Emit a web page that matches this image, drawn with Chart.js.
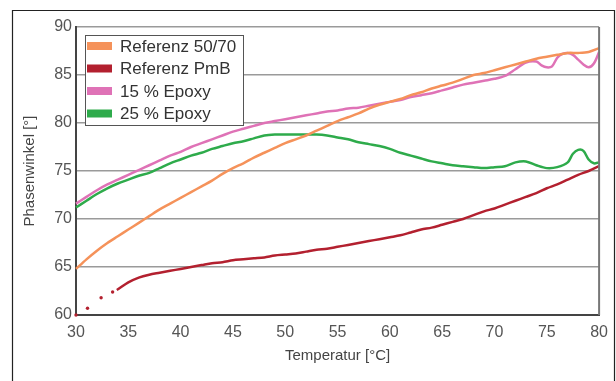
<!DOCTYPE html>
<html>
<head>
<meta charset="utf-8">
<script src="https://cdn.jsdelivr.net/npm/chart.js@4"></script>
<style>
  html, body { margin: 0; padding: 0; background: #fff; }
  #wrap { width: 616px; height: 381px; position: relative; }
</style>
</head>
<body>
<div id="wrap"><canvas id="chart" width="616" height="381"></canvas></div>
<script>
// Phasenwinkel vs. Temperatur
const seriesLabels = ['Referenz 50/70', 'Referenz PmB', '15 % Epoxy', '25 % Epoxy'];

const ref5070Temp = [30,31,32,33,34,35,36,37,38,39,40,41,42,43,44,45,46,47,48,49,50,51,52,53,54,55,56,57,58,59,60,61,62,63,64,65,66,67,68,69,70,71,72,73,74,75,76,77,78,79,80];
const ref5070Values = [64.8,65.8,66.7,67.5,68.2,68.9,69.6,70.3,71.0,71.6,72.2,72.8,73.4,74.0,74.7,75.3,75.8,76.4,76.9,77.4,77.9,78.3,78.7,79.2,79.7,80.2,80.6,81.0,81.5,81.9,82.2,82.5,82.9,83.2,83.6,83.9,84.2,84.6,85.0,85.2,85.5,85.8,86.1,86.4,86.7,86.9,87.1,87.3,87.3,87.4,87.8];

const refPmbTemp = [30,31.1,32.4,33.5,33.9,35,36,37,38,39,40,41,42,43,44,45,46,47,48,49,50,51,52,53,54,55,56,57,58,59,60,61,62,63,64,65,66,67,68,69,70,71,72,73,74,75,76,77,78,79,80];
const refPmbValues = [60.0,60.7,61.8,62.4,62.6,63.4,63.9,64.2,64.4,64.6,64.8,65.0,65.2,65.4,65.5,65.7,65.8,65.9,66.0,66.2,66.3,66.4,66.6,66.8,66.9,67.1,67.3,67.5,67.7,67.9,68.1,68.3,68.6,68.9,69.1,69.4,69.7,70.0,70.4,70.8,71.1,71.5,71.9,72.3,72.7,73.2,73.6,74.1,74.6,75.0,75.5];

const epoxy15Temp = [30,31,32,33,34,35,36,37,38,39,40,41,42,43,44,45,46,47,48,49,50,51,52,53,54,55,56,57,58,59,60,61,62,63,64,65,66,67,68,69,70,71,72,73,74,74.5,75,75.5,76,76.5,77,77.5,78,78.5,79,79.5,80];
const epoxy15Values = [71.6,72.3,73.0,73.6,74.1,74.6,75.1,75.6,76.1,76.6,77.0,77.5,77.9,78.3,78.7,79.1,79.4,79.7,80.0,80.2,80.4,80.6,80.8,81.0,81.2,81.3,81.5,81.6,81.8,82.0,82.2,82.4,82.7,82.9,83.1,83.4,83.7,84.0,84.2,84.4,84.6,84.9,85.6,86.3,86.4,86.0,85.8,85.9,86.8,87.2,87.3,87.1,86.6,86.1,85.8,86.2,87.4];

const epoxy25Temp = [30,31,32,33,34,35,36,37,38,39,40,41,42,43,44,45,46,47,48,49,50,51,52,53,54,55,56,57,58,59,60,61,62,63,64,65,66,67,68,69,70,71,72,73,74,75,76,77,77.5,78,78.5,79,79.5,80];
const epoxy25Values = [71.2,71.9,72.6,73.2,73.7,74.1,74.5,74.8,75.3,75.8,76.2,76.6,76.9,77.3,77.6,77.9,78.1,78.4,78.7,78.8,78.8,78.8,78.8,78.8,78.7,78.5,78.3,78.0,77.8,77.6,77.3,76.9,76.6,76.3,76.0,75.8,75.6,75.5,75.4,75.3,75.4,75.5,75.9,76.0,75.6,75.3,75.4,75.9,76.8,77.2,77.1,76.2,75.8,75.9];

const xTicks = [30,35,40,45,50,55,60,65,70,75,80];
const yTicks = [60,65,70,75,80,85,90];

const colors = ['#f5925a', '#b3202f', '#df72b6', '#2eab4b'];

function zip(xs, ys) {
  return xs.map((x, i) => ({ x: x, y: ys[i] }));
}

// the PmB curve starts with a few single dots before the line begins
const pmbDotCount = 4;

const datasets = [
  { label: seriesLabels[0], data: zip(ref5070Temp, ref5070Values), borderColor: colors[0] },
  {
    label: seriesLabels[1], data: zip(refPmbTemp, refPmbValues), borderColor: colors[1],
    pointRadius: refPmbTemp.map((t, i) => i < pmbDotCount ? 1.7 : 0),
    pointBackgroundColor: colors[1], pointBorderWidth: 0,
    segment: { borderColor: ctx => ctx.p1DataIndex <= pmbDotCount ? 'transparent' : undefined }
  },
  { label: seriesLabels[2], data: zip(epoxy15Temp, epoxy15Values), borderColor: colors[2] },
  { label: seriesLabels[3], data: zip(epoxy25Temp, epoxy25Values), borderColor: colors[3] },
].map(ds => Object.assign({ borderWidth: 2.5, pointRadius: 0, fill: false, tension: 0.3, clip: false }, ds));

const framePlugin = {
  id: 'frame',
  beforeDraw(chart) {
    const ctx = chart.ctx;
    ctx.save();
    ctx.fillStyle = '#fff';
    ctx.fillRect(0, 0, chart.width, chart.height);
    ctx.strokeStyle = '#222';
    ctx.lineWidth = 1.2;
    ctx.beginPath();
    ctx.moveTo(12.5, chart.height + 5);
    ctx.lineTo(12.5, 10.5);
    ctx.lineTo(614.5, 10.5);
    ctx.lineTo(614.5, chart.height + 5);
    ctx.stroke();
    ctx.restore();
  },
  afterDraw(chart) {
    const { ctx, chartArea: a } = chart;
    ctx.save();
    // right edge of the plot
    ctx.strokeStyle = '#777';
    ctx.lineWidth = 2;
    ctx.beginPath();
    ctx.moveTo(a.right, a.top);
    ctx.lineTo(a.right, a.bottom);
    ctx.stroke();

    // legend box
    const bx = a.left + 9, by = a.top + 8;
    ctx.fillStyle = '#fff';
    ctx.fillRect(bx, by, 158, 90);
    ctx.strokeStyle = '#555';
    ctx.lineWidth = 1;
    ctx.strokeRect(bx + 0.5, by + 0.5, 158, 90);
    ctx.font = '17px "Liberation Sans", Arial, sans-serif';
    ctx.textBaseline = 'middle';
    seriesLabels.forEach((lbl, i) => {
      const cy = by + 11 + i * 22.5;
      ctx.fillStyle = colors[i];
      ctx.fillRect(bx + 2, cy - 4, 25, 8);
      ctx.fillStyle = '#333';
      ctx.fillText(lbl, bx + 35, cy + 1);
    });
    ctx.restore();
  }
};

new Chart(document.getElementById('chart'), {
  type: 'line',
  data: { datasets: datasets },
  options: {
    responsive: false,
    animation: false,
    layout: { padding: { top: 27, right: 14, left: 0, bottom: 0 } },
    plugins: { legend: { display: false }, tooltip: { enabled: false } },
    scales: {
      x: {
        type: 'linear',
        min: 30, max: 80,
        afterFit: scale => { scale.height = 66; },
        afterBuildTicks: scale => { scale.ticks = xTicks.map(v => ({ value: v })); },
        grid: { display: false, drawTicks: false },
        border: { color: '#444', width: 2 },
        ticks: { color: '#555', padding: 8, font: { family: '"Liberation Sans", Arial', size: 16 } },
        title: {
          display: true, text: 'Temperatur [°C]', color: '#444',
          font: { family: '"Liberation Sans", Arial', size: 15 },
          padding: { top: 0, bottom: 16 }
        }
      },
      y: {
        min: 60, max: 90,
        afterFit: scale => { scale.width = 76; },
        afterBuildTicks: scale => { scale.ticks = yTicks.map(v => ({ value: v })); },
        grid: { color: '#9a9a9a', lineWidth: 1.5, drawTicks: false },
        border: { color: '#444', width: 2 },
        ticks: { color: '#555', padding: 4, font: { family: '"Liberation Sans", Arial', size: 16 } },
        title: {
          display: true, text: 'Phasenwinkel [°]', color: '#444',
          font: { family: '"Liberation Sans", Arial', size: 15 },
          padding: { top: 21, bottom: 0 }
        }
      }
    }
  },
  plugins: [framePlugin]
});
</script>
</body>
</html>
